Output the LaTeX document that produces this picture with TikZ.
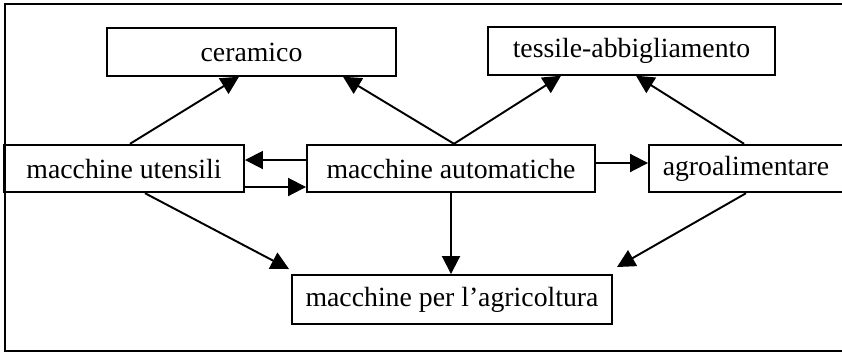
\documentclass[tikz,border=0pt]{standalone}
\usepackage{fontspec}
\setmainfont{Liberation Serif}
\usetikzlibrary{arrows.meta, positioning}

\begin{document}
\begin{tikzpicture}[
  box/.style={draw, line width=1.1pt, minimum height=0.95cm, inner sep=0pt,
              font=\fontsize{15.8}{18}\selectfont},
  arr/.style={line width=1.1pt, -{Triangle[length=0.36cm, width=0.36cm]}}
]
  \clip (0,0) rectangle (16.84,7.06);
  % outer frame (right side runs off the page)
  \draw[line width=0.8pt] (0.1,0.04) rectangle (17.2,6.98);

  % target sectors
  \node[box, minimum width=5.78cm] (ceramico) at (5.03,6.02) {ceramico};
  \node[box, minimum width=5.74cm] (tessile)  at (12.63,6.04) {tessile-abbigliamento};
  % machine sectors
  \node[box, minimum width=4.8cm]  (utensili)   at (2.48,3.69) {macchine utensili};
  \node[box, minimum width=5.76cm] (automatiche) at (9.02,3.69) {macchine automatiche};
  \node[box, minimum width=3.88cm] (agro)        at (14.92,3.69) {agroalimentare};
  \node[box, minimum width=6.4cm, minimum height=0.98cm]
       (agricoltura) at (9.04,1.07) {macchine per l'agricoltura};

  % upward links
  \draw[arr] ([xshift=0.12cm]utensili.north) -- ([xshift=-0.25cm]ceramico.south);
  \draw[arr] ([xshift=0.06cm]automatiche.north) -- ([xshift=1.83cm]ceramico.south);
  \draw[arr] ([xshift=0.06cm]automatiche.north) -- ([xshift=-1.41cm]tessile.south);
  \draw[arr] ([xshift=-0.04cm]agro.north) -- ([xshift=0.09cm]tessile.south);

  % horizontal links
  \draw[arr] ([yshift=0.17cm]automatiche.west) -- ([yshift=0.17cm]utensili.east);
  \draw[arr] ([yshift=-0.37cm]utensili.east) -- ([yshift=-0.37cm]automatiche.west);
  \draw[arr] ([yshift=0.11cm]automatiche.east) -- ([yshift=0.11cm]agro.west);

  % downward links
  \draw[arr] ([xshift=0.42cm]utensili.south) -- ([shift={(-0.04cm,0.1cm)}]agricoltura.north west);
  \draw[arr] (automatiche.south) -- (automatiche.south |- agricoltura.north);
  \draw[arr] (agro.south) -- ([shift={(0.08cm,0.14cm)}]agricoltura.north east);
\end{tikzpicture}
\end{document}
